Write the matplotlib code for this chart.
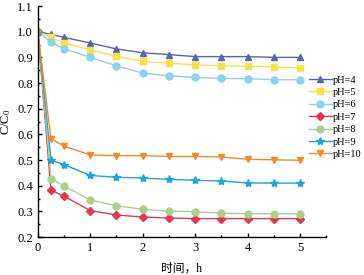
import numpy as np
import matplotlib.pyplot as plt
from matplotlib.ticker import MultipleLocator

# data
t = [0, 0.25, 0.5, 1, 1.5, 2, 2.5, 3, 3.5, 4, 4.5, 5]
ph4 = [1.0, 0.99, 0.978, 0.956, 0.933, 0.918, 0.911, 0.903, 0.903, 0.903, 0.900, 0.900]
ph5 = [1.0, 0.978, 0.956, 0.929, 0.904, 0.885, 0.877, 0.871, 0.868, 0.865, 0.863, 0.860]
ph6 = [1.0, 0.959, 0.934, 0.900, 0.867, 0.839, 0.828, 0.822, 0.818, 0.817, 0.813, 0.813]
ph7 = [1.0, 0.383, 0.359, 0.303, 0.286, 0.278, 0.274, 0.272, 0.272, 0.272, 0.272, 0.272]
ph8 = [1.0, 0.428, 0.399, 0.344, 0.322, 0.308, 0.301, 0.299, 0.293, 0.291, 0.291, 0.290]
ph9 = [1.0, 0.500, 0.482, 0.440, 0.433, 0.430, 0.425, 0.421, 0.418, 0.411, 0.410, 0.410]
ph10 = [1.0, 0.583, 0.554, 0.520, 0.517, 0.517, 0.514, 0.514, 0.512, 0.503, 0.501, 0.499]

series = [ph4, ph5, ph6, ph7, ph8, ph9, ph10]
labels = ['pH=4', 'pH=5', 'pH=6', 'pH=7', 'pH=8', 'pH=9', 'pH=10']
colors = ['#5565b0', '#f7e14a', '#8dd2f0', '#e0394d', '#a9d18e', '#1ba6e0', '#f08a2c']
markers = ['^', 's', 'o', 'D', 'o', '*', 'v']
msizes = [5, 4.5, 5, 4, 5, 6, 5]

plt.rcParams['font.family'] = ['Liberation Serif', 'Noto Sans CJK SC']
plt.rcParams['mathtext.fontset'] = 'stix'

fig = plt.figure(figsize=(3.64, 2.75), dpi=100)
ax = fig.add_axes([0.104, 0.138, 0.792, 0.84])

for y, lab, c, m, ms in zip(series, labels, colors, markers, msizes):
    ax.plot(t, y, color=c, marker=m, markersize=ms, linewidth=1, label=lab)

ax.set_xlim(0, 5.5)
ax.set_ylim(0.2, 1.1)
ax.xaxis.set_major_locator(MultipleLocator(1))
ax.xaxis.set_minor_locator(MultipleLocator(0.5))
ax.yaxis.set_major_locator(MultipleLocator(0.1))
ax.yaxis.set_minor_locator(MultipleLocator(0.05))
ax.spines['top'].set_visible(False)
ax.spines['right'].set_visible(False)
ax.spines['left'].set_linewidth(1)
ax.spines['bottom'].set_linewidth(1)
ax.tick_params(which='both', direction='in', labelsize=9, width=1)
ax.tick_params(which='major', length=3)
ax.tick_params(which='minor', length=1.5)
ax.set_xticks([0, 1, 2, 3, 4, 5])
ax.set_xticklabels(['0', '1', '2', '3', '4', '5'])
ax.set_xlabel('时间，h', fontsize=8.5, labelpad=6)
ax.set_ylabel('C/C$_0$', fontsize=9, labelpad=3)

ax.legend(loc='upper left', bbox_to_anchor=(0.94, 0.70), frameon=False, fontsize=7.5,
          handlelength=2.2, handletextpad=0.1, labelspacing=0.3, borderaxespad=0,
          borderpad=0)

fig.savefig('out.png', dpi=100)
